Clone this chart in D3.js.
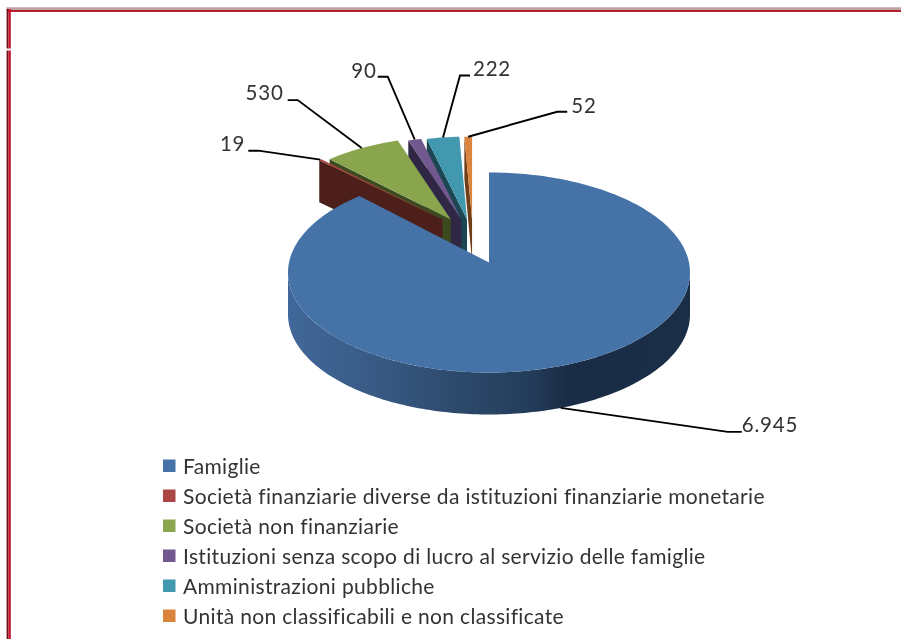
<!DOCTYPE html>
<html>
<head>
<meta charset="utf-8">
<script src="https://d3js.org/d3.v7.min.js"></script>
<style>
html,body{margin:0;padding:0;background:#fff;overflow:hidden}
svg{display:block;filter:blur(0.6px)}
text{font-family:Lato,"Open Sans",sans-serif;fill:#333}
</style>
</head>
<body>
<svg id="chart" width="901" height="639"></svg>
<script>
const categories = ["Famiglie","Società finanziarie diverse da istituzioni finanziarie monetarie","Società non finanziarie","Istituzioni senza scopo di lucro al servizio delle famiglie","Amministrazioni pubbliche","Unità non classificabili e non classificate"];
const values = [6945,19,530,90,222,52];
const colors = ["#4572A7","#AA4643","#89A54E","#71588F","#4198AF","#DB843D"];
const wallColors = ["#2c4768","#4c1f1a","#3c4a20","#2f2744","#1c4652","#6e3f18"];

const svg = d3.select("#chart");
const W = 901, H = 639;
const cx = 489, cy = 272.5, rx = 201, ry = 100, apexLift = 10, depth = 42, small = 0.92;
const bigEndSkew = 0.03; // perspective of the 3D view moves the big slice's far edge slightly
const fmt = d3.formatLocale({decimal:",",thousands:".",grouping:[3],currency:["","€"]}).format(",d");

// frame
const frame = svg.append("g").attr("fill","none");
frame.append("line").attr("x1",6.5).attr("x2",W).attr("y1",8.6).attr("y2",8.6).attr("stroke","#bfa3a3").attr("stroke-width",2.6);
frame.append("line").attr("x1",7).attr("x2",W).attr("y1",11).attr("y2",11).attr("stroke","#b81d30").attr("stroke-width",2.2);
[[9,48.5],[50.5,H]].forEach(([a,b])=>{
  frame.append("line").attr("x1",7.5).attr("x2",7.5).attr("y1",a).attr("y2",b).attr("stroke","#6d0f18").attr("stroke-width",1.8);
  frame.append("line").attr("x1",9.6).attr("x2",9.6).attr("y1",a).attr("y2",b).attr("stroke","#c4142c").attr("stroke-width",2.4);
});

// slices
const arcs = d3.pie().sort(null).startAngle(0).endAngle(2*Math.PI)(values);
const line = d3.line();
const slices = arcs.map((a,i)=>{
  const mid = (a.startAngle+a.endAngle)/2;
  const exploded = i>0;
  return {
    i, start:a.startAngle, end:a.endAngle + (exploded?0:bigEndSkew), mid,
    ax: exploded ? cx-16+46*Math.sin(mid) : cx,
    ay: exploded ? cy-apexLift-43 : cy-apexLift,
    s: exploded ? small : 1
  };
});
const pt = (d,t,dz=0)=>[d.ax+rx*d.s*Math.sin(t), d.ay+apexLift*d.s-ry*d.s*Math.cos(t)+dz];
const arcPts = (d,a,b,dz=0)=>{
  const n = Math.max(2,Math.ceil(Math.abs(b-a)/0.02));
  return d3.range(n+1).map(k=>pt(d,a+(b-a)*k/n,dz));
};

const defs = svg.append("defs");
const grad = defs.append("linearGradient").attr("id","wall").attr("gradientUnits","userSpaceOnUse")
  .attr("x1",cx-rx).attr("x2",cx+rx).attr("y1",0).attr("y2",0);
[[0,"#41689a"],[0.2,"#395b86"],[0.42,"#2d4a6c"],[0.6,"#243c5b"],[0.7,"#1a2c45"],[1,"#1b2e48"]]
  .forEach(([o,c])=>grad.append("stop").attr("offset",o).attr("stop-color",c));

const g = svg.append("g");
// back to front: exploded slices from the far side forward, then the big slice
slices.slice(1).reverse().forEach(d=>{
  const apex=[d.ax,d.ay], outer=pt(d,d.start);
  g.append("path").attr("fill",wallColors[d.i])
    .attr("d",line([apex,outer,[outer[0],outer[1]+depth],[apex[0],apex[1]+depth]])+"Z");
  g.append("path").attr("fill",colors[d.i])
    .attr("d",line([apex,...arcPts(d,d.start,d.end)])+"Z");
});
const big = slices[0];
g.append("path").attr("fill","url(#wall)")
  .attr("d",line([...arcPts(big,Math.PI/2,3*Math.PI/2),...arcPts(big,3*Math.PI/2,Math.PI/2,depth)])+"Z");
g.append("path").attr("fill",colors[0])
  .attr("d",line([[big.ax,big.ay],...arcPts(big,big.start,big.end)])+"Z");

// leader lines and value labels: elbow offset from the slice anchor, then text offset from the elbow
const leaderLayout = [
  {elbow:[167,24],tail:14,tx:0,ty:-8,dz:depth,anchor:"start"},
  {elbow:[-62,-9],tail:-10,tx:-3,ty:-8,dz:0,anchor:"end"},
  {elbow:[-64,-48],tail:-10,tx:-4,ty:-8,dz:0,anchor:"end"},
  {elbow:[-27,-63],tail:-10,tx:-1,ty:-7,dz:0,anchor:"end"},
  {elbow:[17,-62],tail:10,tx:3,ty:-7,dz:0,anchor:"start"},
  {elbow:[89,-25],tail:10,tx:4,ty:-7,dz:0,anchor:"start"}
];
const lg = svg.append("g");
slices.forEach(d=>{
  const L = leaderLayout[d.i], p = pt(d,d.mid,L.dz);
  const e = [p[0]+L.elbow[0],p[1]+L.elbow[1]], t=[e[0]+L.tail,e[1]];
  lg.append("path").attr("fill","none").attr("stroke","#000").attr("stroke-width",1.9).attr("d",line([p,e,t]));
  lg.append("text").attr("x",t[0]+L.tx).attr("y",t[1]+L.ty).attr("text-anchor",L.anchor)
    .attr("dominant-baseline","central").attr("font-size",20.5).attr("letter-spacing",0.8).text(fmt(values[d.i]));
});

// legend
const rowY = d3.scalePoint().domain(categories).range([465.5,615.5]);
const lgd = svg.append("g").selectAll("g").data(categories).join("g")
  .attr("transform",c=>`translate(0,${rowY(c)})`);
lgd.append("rect").attr("x",163).attr("y",-6).attr("width",12.5).attr("height",12.5).attr("fill",(c,i)=>colors[i]);
lgd.append("text").attr("x",183).attr("dominant-baseline","central").attr("font-size",21).attr("letter-spacing",0.33).text(c=>c);
</script>
</body>
</html>
